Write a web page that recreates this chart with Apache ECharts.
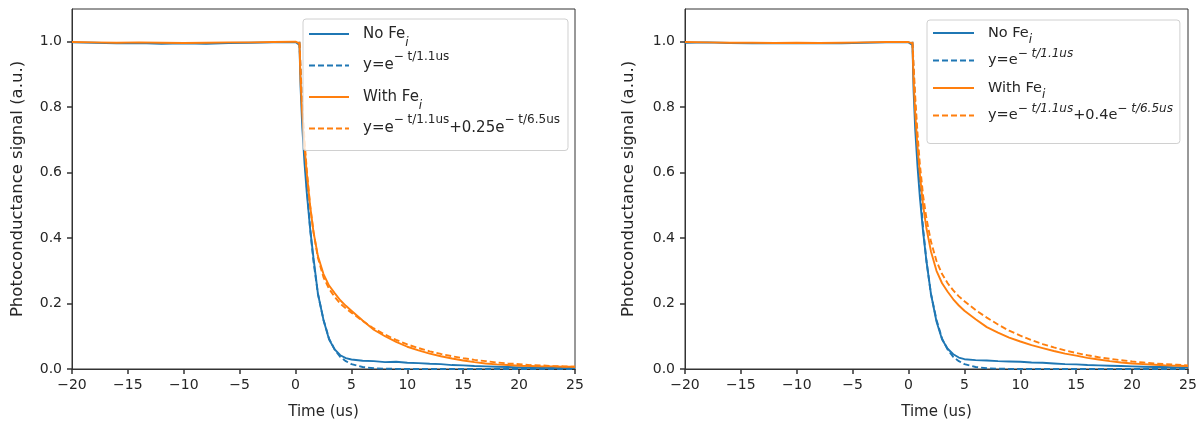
<!DOCTYPE html>
<html>
<head>
<meta charset="utf-8">
<script src="https://cdn.jsdelivr.net/npm/echarts@6/dist/echarts.min.js"></script>
<style>
  html, body { margin: 0; padding: 0; background: #fff; }
  #chart { width: 1200px; height: 425px; }
</style>
</head>
<body>
<div id="chart"></div>
<script>
// time axis of the measured traces (us)
var timeData = [-20, -18, -16, -14, -12, -10, -8, -6, -4, -2, 0, 0.35, 0.45, 0.6, 0.8, 1.0, 1.3, 1.6, 2.0, 2.5, 3.0, 3.5, 4.0, 4.5,
  5, 6, 7, 8, 9, 10, 11, 12, 13, 14, 15, 16, 17, 18, 19, 20, 21, 22, 23, 24, 25];
// time axis of the fitted curves (us)
var timeFit = [0.35, 0.45, 0.6, 0.8, 1.0, 1.3, 1.6, 2.0, 2.5, 3.0, 3.5, 4.0, 4.5,
  5, 6, 7, 8, 9, 10, 11, 12, 13, 14, 15, 16, 17, 18, 19, 20, 21, 22, 23, 24, 25];

// left panel
var noFeLeft = [0.998, 0.997, 0.995, 0.996, 0.994, 0.995, 0.994, 0.996, 0.997, 0.998, 0.999, 0.99, 0.86, 0.74, 0.63, 0.54, 0.43, 0.34, 0.23, 0.15, 0.09, 0.06, 0.042, 0.033,
  0.029, 0.025, 0.024, 0.021, 0.022, 0.019, 0.018, 0.016, 0.015, 0.012, 0.011, 0.009, 0.008, 0.007, 0.006, 0.005, 0.004, 0.004, 0.003, 0.003, 0.003];
var fitNoFeLeft = [1.0, 0.91, 0.80, 0.67, 0.56, 0.43, 0.33, 0.23, 0.15, 0.093, 0.059, 0.037, 0.024,
  0.015, 0.006, 0.0025, 0.001, 0.0004, 0, 0, 0, 0, 0, 0, 0, 0, 0, 0, 0, 0, 0, 0, 0, 0];
var withFeLeft = [0.999, 0.998, 0.997, 0.998, 0.997, 0.996, 0.997, 0.998, 0.998, 0.999, 1.0, 0.995, 0.88, 0.78, 0.68, 0.6, 0.5, 0.42, 0.345, 0.29, 0.255, 0.232, 0.21, 0.193,
  0.178, 0.148, 0.12, 0.1, 0.083, 0.068, 0.057, 0.047, 0.039, 0.032, 0.026, 0.021, 0.017, 0.014, 0.012, 0.01, 0.009, 0.008, 0.008, 0.007, 0.007];
var fitWithFeLeft = [1.0, 0.92, 0.81, 0.7, 0.61, 0.5, 0.42, 0.34, 0.28, 0.245, 0.22, 0.2, 0.185,
  0.172, 0.147, 0.124, 0.105, 0.089, 0.075, 0.064, 0.054, 0.046, 0.039, 0.033, 0.028, 0.024, 0.02, 0.017, 0.015, 0.012, 0.011, 0.009, 0.008, 0.007];

// right panel
var noFeRight = [0.997, 0.998, 0.996, 0.995, 0.996, 0.995, 0.996, 0.995, 0.997, 0.998, 0.998, 0.99, 0.85, 0.73, 0.62, 0.53, 0.42, 0.33, 0.23, 0.145, 0.09, 0.062, 0.045, 0.035,
  0.03, 0.027, 0.026, 0.024, 0.023, 0.022, 0.02, 0.019, 0.017, 0.015, 0.014, 0.012, 0.011, 0.01, 0.009, 0.008, 0.007, 0.006, 0.006, 0.005, 0.005];
var fitNoFeRight = [1.0, 0.91, 0.80, 0.67, 0.56, 0.43, 0.33, 0.23, 0.15, 0.093, 0.059, 0.037, 0.024,
  0.015, 0.006, 0.0025, 0.001, 0.0004, 0, 0, 0, 0, 0, 0, 0, 0, 0, 0, 0, 0, 0, 0, 0, 0];
var withFeRight = [0.999, 0.998, 0.997, 0.997, 0.996, 0.997, 0.996, 0.997, 0.998, 0.999, 0.999, 0.995, 0.88, 0.78, 0.68, 0.6, 0.5, 0.43, 0.36, 0.3, 0.262, 0.236, 0.213, 0.194,
  0.178, 0.152, 0.128, 0.111, 0.096, 0.084, 0.073, 0.064, 0.055, 0.047, 0.041, 0.034, 0.029, 0.024, 0.02, 0.017, 0.015, 0.013, 0.011, 0.01, 0.009];
var fitWithFeRight = [1.0, 0.93, 0.83, 0.72, 0.63, 0.53, 0.46, 0.39, 0.33, 0.29, 0.262, 0.24, 0.222,
  0.207, 0.18, 0.157, 0.136, 0.117, 0.102, 0.088, 0.076, 0.066, 0.057, 0.049, 0.042, 0.036, 0.031, 0.027, 0.023, 0.02, 0.017, 0.015, 0.013, 0.011];

var yTicks = [0, 0.2, 0.4, 0.6, 0.8, 1.0];

var BLUE = '#1f77b4', ORANGE = '#ff7f0e';
var FONT = '"DejaVu Sans", sans-serif';
var TXT = '#262626';

var legendLabels = {
  noFeL: '{g| }No Fe{sub|i}',
  fitAL: '{g| }y=e{sup|\u2212 t/1.1us}',
  withFeL: '{g| }With Fe{sub|i}',
  fitBL: '{g| }y=e{sup|\u2212 t/1.1us}+0.25e{sup|\u2212 t/6.5us}',
  noFeR: '{g| }No Fe{sub|i}',
  fitAR: '{g| }y=e{supi|\u2212 t/1.1us}',
  withFeR: '{g| }With Fe{sub|i}',
  fitBR: '{g| }y=e{supi|\u2212 t/1.1us}+0.4e{supi|\u2212 t/6.5us}'
};

function pairs(xs, ys) {
  return xs.map(function (x, i) { return [x, ys[i]]; });
}

function lineSeries(name, idx, xs, ys, color, dashed) {
  return {
    name: name, type: 'line', xAxisIndex: idx, yAxisIndex: idx,
    data: pairs(xs, ys), showSymbol: false, symbol: 'none', animation: false,
    lineStyle: { color: color, width: 1.9, type: dashed ? [6, 3] : 'solid' },
    itemStyle: { color: color }
  };
}

function makeGrid(left) {
  return { left: left, top: 9, width: 503, height: 361, show: true, borderColor: '#333', borderWidth: 1, backgroundColor: 'transparent' };
}

function xAxisFor(idx) {
  return {
    type: 'value', gridIndex: idx, min: -20, max: 25, interval: 5,
    name: 'Time (us)', nameLocation: 'middle', nameGap: 36,
    nameTextStyle: { fontFamily: FONT, fontSize: 15, color: TXT },
    axisLine: { show: true, onZero: false, lineStyle: { color: '#333' } },
    axisTick: { show: true, length: 5, lineStyle: { color: '#333', width: 1.5 } },
    axisLabel: { fontFamily: FONT, fontSize: 14, color: TXT, margin: 9,
      formatter: function (v) { return String(v).replace('-', '\u2212'); } },
    splitLine: { show: false }
  };
}

function yAxisFor(idx, gap) {
  return {
    type: 'value', gridIndex: idx, min: 0, max: 1.1,
    name: 'Photoconductance signal (a.u.)', nameLocation: 'middle', nameGap: gap,
    nameTextStyle: { fontFamily: FONT, fontSize: 16.5, color: TXT },
    axisLine: { show: true, onZero: false, lineStyle: { color: '#333' } },
    axisTick: { show: true, length: 5, customValues: yTicks, lineStyle: { color: '#333', width: 1.5 } },
    axisLabel: { fontFamily: FONT, fontSize: 14, color: TXT, margin: 10, customValues: yTicks,
      formatter: function (v) { return v.toFixed(1); } },
    splitLine: { show: false }
  };
}

function legendFor(names, left, top, pad, gap, size, supSize, lh, supLh, subLh, itemW) {
  return {
    data: names, orient: 'vertical', left: left, top: top,
    padding: pad, itemGap: gap, itemWidth: itemW, itemHeight: 14,
    backgroundColor: 'rgba(255,255,255,0.8)', borderColor: '#d0d0d0', borderWidth: 1, borderRadius: 3,
    selectedMode: false,
    itemStyle: { opacity: 0 },
    formatter: function (n) { return legendLabels[n]; },
    textStyle: {
      fontFamily: FONT, fontSize: size, color: TXT, lineHeight: lh,
      rich: {
        g: { width: 9, fontSize: size, lineHeight: lh },
        sup: { fontSize: supSize, lineHeight: supLh, verticalAlign: 'top', color: TXT, fontFamily: FONT },
        supi: { fontSize: supSize, lineHeight: supLh, verticalAlign: 'top', color: TXT, fontFamily: FONT, fontStyle: 'italic' },
        sub: { fontSize: supSize, lineHeight: subLh, verticalAlign: 'bottom', color: TXT, fontFamily: FONT, fontStyle: 'italic' }
      }
    }
  };
}

var chart = echarts.init(document.getElementById('chart'), null, { renderer: 'canvas' });
chart.setOption({
  animation: false,
  backgroundColor: '#fff',
  grid: [makeGrid(72), makeGrid(685)],
  xAxis: [xAxisFor(0), xAxisFor(1)],
  yAxis: [yAxisFor(0, 46), yAxisFor(1, 48)],
  legend: [
    legendFor(['noFeL', 'fitAL', 'withFeL', 'fitBL'], 303, 19, [0, 8, 7, 5], 1.5, 15, 12, 30, 8, 22, 40),
    legendFor(['noFeR', 'fitAR', 'withFeR', 'fitBR'], 927, 20, [0, 7, 15, 5], 1.5, 14.5, 12, 26, 7, 19, 41)
  ],
  series: [
    lineSeries('noFeL', 0, timeData, noFeLeft, BLUE, false),
    lineSeries('fitAL', 0, timeFit, fitNoFeLeft, BLUE, true),
    lineSeries('withFeL', 0, timeData, withFeLeft, ORANGE, false),
    lineSeries('fitBL', 0, timeFit, fitWithFeLeft, ORANGE, true),
    lineSeries('noFeR', 1, timeData, noFeRight, BLUE, false),
    lineSeries('fitAR', 1, timeFit, fitNoFeRight, BLUE, true),
    lineSeries('withFeR', 1, timeData, withFeRight, ORANGE, false),
    lineSeries('fitBR', 1, timeFit, fitWithFeRight, ORANGE, true)
  ]
});
</script>
</body>
</html>
